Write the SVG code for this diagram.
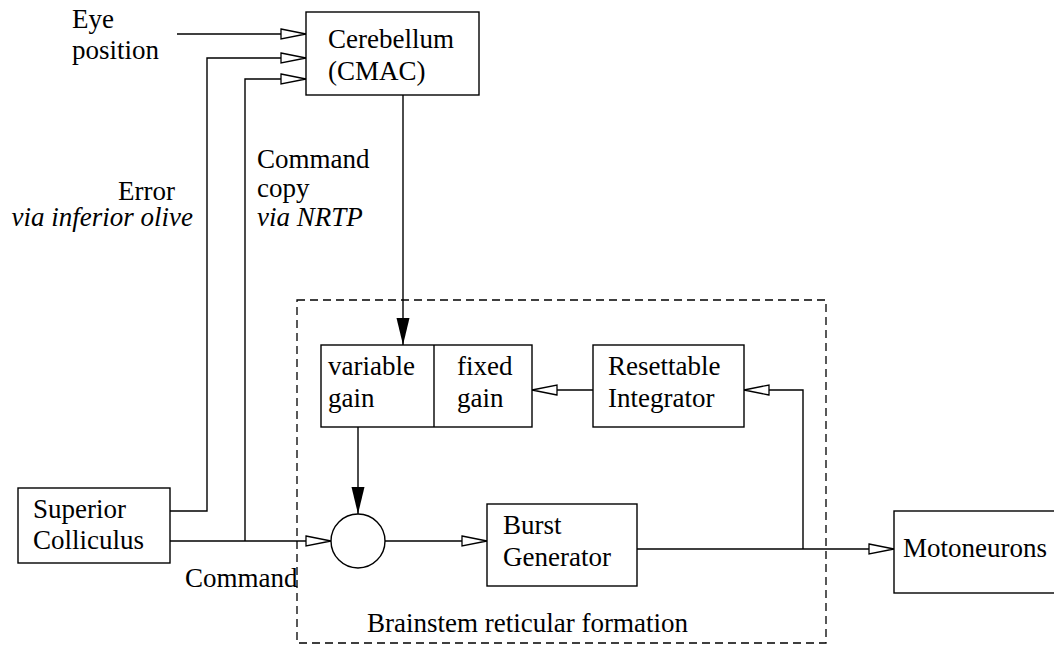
<svg xmlns="http://www.w3.org/2000/svg" width="1054" height="649" viewBox="0 0 1054 649">
<style>
text{font-family:"Liberation Serif","Times New Roman",serif;font-size:27px;fill:#000}
.it{font-style:italic}
.box{fill:#fff;stroke:#000;stroke-width:1.4}
.ln{fill:none;stroke:#000;stroke-width:1.4}
.ha{marker-end:url(#hollow)}
.fa{marker-end:url(#solid)}
.dash{fill:none;stroke:#000;stroke-width:1.3;stroke-dasharray:8 5}
</style>
<defs>
<marker id="hollow" markerUnits="userSpaceOnUse" markerWidth="28" markerHeight="14" refX="25" refY="6" orient="auto" overflow="visible">
<path d="M0,1 L25,6 L0,11 Z" fill="#fff" stroke="#000" stroke-width="1.3"/>
</marker>
<marker id="solid" markerUnits="userSpaceOnUse" markerWidth="28" markerHeight="14" refX="27" refY="6.5" orient="auto" overflow="visible">
<path d="M0,0 L27,6.5 L0,13 Z" fill="#000"/>
</marker>
</defs>
<rect width="1054" height="649" fill="#fff"/>
<g id="region">
<rect class="dash" x="297" y="300" width="529" height="343"/>
<text x="367" y="632">Brainstem reticular formation</text>
</g>
<g id="connectors">
<line class="ln ha" x1="177" y1="34" x2="306" y2="34"/>
<polyline class="ln ha" points="170,511 207,511 207,58 306,58"/>
<polyline class="ln ha" points="245,541 245,79 306,79"/>
<line class="ln ha" x1="170" y1="541" x2="331" y2="541"/>
<line class="ln fa" x1="403" y1="95" x2="403" y2="345"/>
<line class="ln ha" x1="593" y1="390" x2="532" y2="390"/>
<line class="ln fa" x1="358" y1="427" x2="358" y2="514"/>
<line class="ln ha" x1="385" y1="541" x2="487" y2="541"/>
<line class="ln ha" x1="637" y1="549" x2="894" y2="549"/>
<polyline class="ln ha" points="803,549 803,390 744,390"/>
</g>
<g id="labels">
<text x="72" y="28">Eye</text>
<text x="72" y="59">position</text>
<text x="175" y="200" text-anchor="end">Error</text>
<text class="it" x="193" y="226" text-anchor="end">via inferior olive</text>
<text x="257" y="168">Command</text>
<text x="257" y="197">copy</text>
<text class="it" x="257" y="226">via NRTP</text>
<text x="185" y="587">Command</text>
</g>
<g id="cerebellum">
<rect class="box" x="306" y="12" width="173" height="83"/>
<text x="328" y="48">Cerebellum</text>
<text x="328" y="80">(CMAC)</text>
</g>
<g id="gain">
<rect class="box" x="321" y="345" width="211" height="82"/>
<line class="ln" x1="434" y1="345" x2="434" y2="427"/>
<text x="328" y="375">variable</text>
<text x="328" y="407">gain</text>
<text x="457" y="375">fixed</text>
<text x="457" y="407">gain</text>
</g>
<g id="integrator">
<rect class="box" x="593" y="345" width="151" height="82"/>
<text x="608" y="375">Resettable</text>
<text x="608" y="407">Integrator</text>
</g>
<g id="colliculus">
<rect class="box" x="18" y="488" width="152" height="75"/>
<text x="33" y="518">Superior</text>
<text x="33" y="549">Colliculus</text>
</g>
<g id="sum">
<circle class="box" cx="358" cy="541" r="27"/>
</g>
<g id="burst">
<rect class="box" x="487" y="504" width="150" height="82"/>
<text x="503" y="534">Burst</text>
<text x="503" y="566">Generator</text>
</g>
<g id="motoneurons">
<rect class="box" x="894" y="511" width="162" height="82"/>
<text x="903" y="557">Motoneurons</text>
</g>
</svg>
